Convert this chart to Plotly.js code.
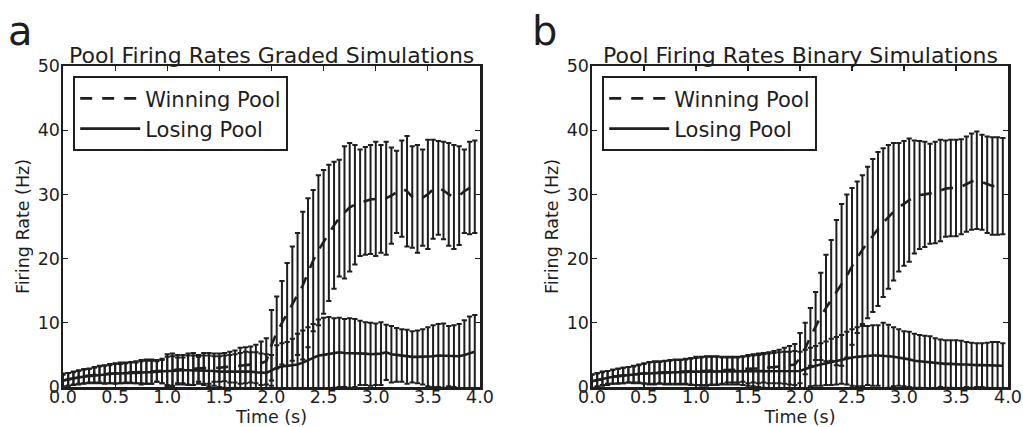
<!DOCTYPE html>
<html>
<head>
<meta charset="utf-8">
<script src="https://cdn.plot.ly/plotly-3.0.1.min.js"></script>
<style>html,body{margin:0;padding:0;background:#fff}#chart{width:1023px;height:427px}</style>
</head>
<body>
<div id="chart"></div>
<script>
// Time points (s)
const time = [0.00,0.05,0.10,0.15,0.20,0.25,0.30,0.35,0.40,0.45,0.50,0.55,0.60,0.65,0.70,0.75,0.80,0.85,0.90,0.95,
  1.00,1.05,1.10,1.15,1.20,1.25,1.30,1.35,1.40,1.45,1.50,1.55,1.60,1.65,1.70,1.75,1.80,1.85,1.90,1.95,
  2.00,2.05,2.10,2.15,2.20,2.25,2.30,2.35,2.40,2.45,2.50,2.55,2.60,2.65,2.70,2.75,2.80,2.85,2.90,2.95,
  3.00,3.05,3.10,3.15,3.20,3.25,3.30,3.35,3.40,3.45,3.50,3.55,3.60,3.65,3.70,3.75,3.80,3.85,3.90,3.95];

// Panel a: graded simulations
const gradedWinMean = [1.0,1.2,1.4,1.5,1.7,1.8,1.9,2.0,2.0,2.1,2.1,2.2,2.2,2.3,2.3,2.3,2.4,2.4,2.5,2.5,
  2.6,2.6,2.7,2.7,2.8,2.8,2.9,2.9,2.9,3.0,3.0,3.1,3.1,3.2,3.3,3.4,3.5,3.6,3.7,4.0,
  6.5,8.5,10.0,11.3,13.0,14.5,15.8,17.8,19.7,21.3,22.6,24.0,25.2,26.3,27.2,28.0,28.4,28.7,29.0,29.2,
  29.3,29.3,29.4,29.8,30.4,30.9,30.5,29.6,29.3,29.5,30.0,30.8,31.0,30.6,30.0,29.6,29.8,30.5,31.0,31.2];
const gradedWinStd = [1.1,1.0,1.0,1.1,1.1,1.1,1.2,1.3,1.4,1.5,1.6,1.6,1.6,1.6,1.7,1.9,1.9,1.9,1.7,1.9,
  2.5,2.6,2.3,2.3,2.4,2.5,2.1,2.4,2.4,2.2,2.2,2.2,2.4,2.5,2.8,2.8,2.8,3.0,3.4,3.6,
  5.5,5.6,6.5,8.0,8.9,9.5,11.5,11.6,11.0,11.7,11.2,10.6,9.9,9.1,10.3,10.0,9.3,8.3,8.4,8.5,
  8.9,8.4,8.8,7.5,6.4,7.5,8.6,7.9,8.4,7.5,8.5,7.7,7.3,7.6,8.0,8.1,7.7,6.5,7.2,7.2];
const gradedLoseMean = [1.0,1.2,1.3,1.5,1.6,1.7,1.8,1.9,1.9,2.0,2.1,2.1,2.2,2.2,2.2,2.3,2.3,2.3,2.4,2.4,
  2.5,2.5,2.6,2.6,2.6,2.6,2.6,2.6,2.5,2.5,2.4,2.4,2.4,2.5,2.5,2.5,2.4,2.3,2.2,2.2,
  2.6,3.0,3.2,3.3,3.4,3.5,3.8,4.2,4.6,4.9,5.0,5.1,5.3,5.4,5.3,5.3,5.3,5.3,5.2,5.1,
  5.1,5.2,5.4,5.1,5.0,4.9,4.7,4.7,4.7,4.7,4.7,4.8,4.9,4.9,4.8,4.8,4.8,5.0,5.3,5.5];
const gradedLoseStd = [0.9,1.0,1.0,1.0,1.1,1.1,1.2,1.3,1.4,1.4,1.5,1.5,1.5,1.6,1.6,1.7,1.8,1.8,1.6,1.8,
  2.2,2.3,2.0,2.0,2.3,2.3,2.1,2.3,2.4,2.3,2.4,2.5,2.6,2.6,2.8,3.0,3.0,3.1,3.0,2.9,
  2.4,3.5,3.6,3.7,4.1,4.8,5.0,5.1,5.2,5.6,5.8,5.8,5.4,5.4,5.3,5.4,5.3,5.0,4.9,4.9,
  4.8,4.9,4.3,4.4,4.2,4.1,4.2,4.0,4.1,4.3,4.6,4.8,4.9,5.0,4.7,4.8,5.0,5.4,5.7,5.7];

// Panel b: binary simulations
const binaryWinMean = [0.9,1.1,1.3,1.5,1.6,1.7,1.8,1.9,2.0,2.1,2.1,2.2,2.2,2.3,2.3,2.3,2.4,2.4,2.4,2.4,
  2.5,2.5,2.5,2.6,2.6,2.6,2.7,2.7,2.7,2.8,2.8,2.9,2.9,3.0,3.0,3.1,3.2,3.3,3.4,3.5,
  4.5,6.0,7.8,9.5,11.0,12.3,13.5,14.7,15.9,17.3,18.8,20.2,21.4,22.5,23.6,24.6,25.6,26.5,27.3,28.0,
  28.6,29.1,29.6,29.9,30.0,30.1,30.3,30.6,30.9,31.0,31.0,31.2,31.6,32.0,32.2,31.9,31.5,31.3,31.3,31.3];
const binaryWinStd = [1.1,1.1,1.1,1.0,1.1,1.2,1.2,1.2,1.3,1.4,1.6,1.7,1.8,1.7,1.8,1.9,1.9,1.9,2.0,2.1,
  2.2,2.2,2.3,2.2,2.2,2.1,2.0,2.0,2.0,2.0,2.2,2.2,2.3,2.3,2.4,2.5,2.6,2.8,3.0,3.2,
  3.9,4.0,4.5,5.3,6.8,8.3,9.4,11.3,12.6,12.7,12.2,11.8,11.6,11.8,11.9,12.0,11.6,11.2,10.7,10.0,
  9.7,9.6,8.8,8.4,8.2,7.8,7.9,7.9,7.5,7.5,7.5,7.4,7.4,7.5,7.6,7.4,7.5,7.6,7.6,7.5];
const binaryLoseMean = [0.9,1.1,1.3,1.4,1.6,1.7,1.8,1.9,1.9,2.0,2.1,2.1,2.2,2.2,2.2,2.3,2.3,2.3,2.4,2.4,
  2.4,2.4,2.5,2.5,2.5,2.5,2.5,2.5,2.5,2.5,2.5,2.5,2.5,2.5,2.5,2.5,2.5,2.5,2.4,2.4,
  2.5,2.8,3.1,3.3,3.5,3.7,3.9,4.1,4.3,4.5,4.6,4.7,4.8,4.9,4.9,4.9,4.9,4.8,4.7,4.6,
  4.4,4.3,4.1,4.0,3.9,3.8,3.7,3.7,3.6,3.6,3.5,3.5,3.5,3.4,3.4,3.4,3.4,3.3,3.3,3.3];
const binaryLoseStd = [1.0,1.0,1.0,1.1,1.1,1.1,1.2,1.2,1.3,1.4,1.5,1.7,1.7,1.7,1.8,1.8,1.9,1.9,1.9,2.0,
  2.1,2.2,2.2,2.2,2.2,2.1,2.1,2.1,2.1,2.2,2.3,2.4,2.5,2.6,2.7,2.8,2.9,3.0,3.1,3.2,
  3.0,3.0,3.0,3.1,3.3,3.4,3.6,3.7,3.8,4.1,4.4,4.6,4.7,4.6,4.7,4.7,5.1,4.9,4.6,4.4,
  4.3,4.3,4.2,4.1,4.1,4.1,3.9,3.7,3.7,3.7,3.8,3.7,3.5,3.5,3.4,3.4,3.5,3.7,3.7,3.5];

const panelTitles = ["Pool Firing Rates Graded Simulations", "Pool Firing Rates Binary Simulations"];
const panelLetters = ["a", "b"];
const seriesNames = ["Winning Pool", "Losing Pool"];
const xTickVals = [0, 0.5, 1, 1.5, 2, 2.5, 3, 3.5, 4];
const xTickText = ["0.0","0.5","1.0","1.5","2.0","2.5","3.0","3.5","4.0"];
const yTickVals = [0, 10, 20, 30, 40, 50];

const INK = '#1e1e1e';
const FONT = 'DejaVu Sans, Bitstream Vera Sans, sans-serif';

function mk(y, err, name, dash, xa, ya, leg) {
  return {
    x: time, y: y, type: 'scatter', mode: 'lines', name: name,
    xaxis: xa, yaxis: ya, legend: leg,
    line: {color: INK, width: 2.6, dash: dash},
    error_y: {type: 'data', array: err, symmetric: true, visible: true,
              color: INK, thickness: 2, width: 2.6},
    cliponaxis: true
  };
}

const DASH = '12px,10px';
const traces = [
  mk(gradedWinMean, gradedWinStd, seriesNames[0], DASH, 'x', 'y', 'legend'),
  mk(gradedLoseMean, gradedLoseStd, seriesNames[1], 'solid', 'x', 'y', 'legend'),
  mk(binaryWinMean, binaryWinStd, seriesNames[0], DASH, 'x2', 'y2', 'legend2'),
  mk(binaryLoseMean, binaryLoseStd, seriesNames[1], 'solid', 'x2', 'y2', 'legend2')
];

const xDomA = [63/1023, 480/1023], xDomB = [592/1023, 1008/1023];
const yDom = [1 - 387/427, 1 - 66/427];

function xAxis(dom, anchor) {
  return {
    domain: dom, anchor: anchor, range: [0, 4], tickvals: xTickVals, ticktext: xTickText,
    ticks: 'inside', ticklen: 5, tickwidth: 1.2, tickcolor: INK,
    showline: true, linewidth: 2.5, linecolor: INK, mirror: 'ticks',
    showgrid: false, zeroline: false, fixedrange: true,
    ticklabelstandoff: -8,
    tickfont: {family: FONT, size: 17.5, color: INK},
    title: {text: 'Time (s)', font: {family: FONT, size: 17.5, color: INK}, standoff: 3}
  };
}
function yAxis(dom, anchor) {
  return {
    domain: dom, anchor: anchor, range: [0, 50], tickvals: yTickVals,
    ticks: 'inside', ticklen: 5, tickwidth: 1.2, tickcolor: INK,
    showline: true, linewidth: 2.5, linecolor: INK, mirror: 'ticks',
    showgrid: false, zeroline: false, fixedrange: true,
    ticklabelstandoff: -3,
    tickfont: {family: FONT, size: 17.5, color: INK},
    title: {text: 'Firing Rate (Hz)', font: {family: FONT, size: 17.5, color: INK}, standoff: 4}
  };
}
function legendCfg(xpos) {
  return {
    x: xpos, y: 1 - 76/427, xanchor: 'left', yanchor: 'top', xref: 'paper', yref: 'paper',
    bgcolor: '#ffffff', bordercolor: INK, borderwidth: 2.2,
    font: {family: FONT, size: 21, color: INK}, itemwidth: 60, tracegroupgap: 0
  };
}

const layout = {
  width: 1023, height: 427,
  margin: {l: 0, r: 0, t: 0, b: 0},
  paper_bgcolor: '#ffffff', plot_bgcolor: '#ffffff',
  showlegend: true,
  xaxis: xAxis(xDomA, 'y'), yaxis: yAxis(yDom, 'x'),
  xaxis2: xAxis(xDomB, 'y2'), yaxis2: yAxis(yDom, 'x2'),
  legend: legendCfg(73/1023),
  legend2: legendCfg(602/1023),
  annotations: [
    {text: panelTitles[0], xref: 'paper', yref: 'paper', x: (xDomA[0]+xDomA[1])/2, y: yDom[1],
     xanchor: 'center', yanchor: 'bottom', yshift: -4, showarrow: false, font: {family: FONT, size: 22, color: INK}},
    {text: panelTitles[1], xref: 'paper', yref: 'paper', x: (xDomB[0]+xDomB[1])/2, y: yDom[1],
     xanchor: 'center', yanchor: 'bottom', yshift: -4, showarrow: false, font: {family: FONT, size: 22, color: INK}},
    {text: panelLetters[0], xref: 'paper', yref: 'paper', x: 6/1023, y: 1, xanchor: 'left', yanchor: 'top',
     yshift: -6, showarrow: false, font: {family: FONT, size: 40, color: INK}},
    {text: panelLetters[1], xref: 'paper', yref: 'paper', x: 530/1023, y: 1, xanchor: 'left', yanchor: 'top',
     yshift: -6, showarrow: false, font: {family: FONT, size: 40, color: INK}}
  ]
};

Plotly.newPlot('chart', traces, layout, {staticPlot: true, displayModeBar: false});
</script>
</body>
</html>
